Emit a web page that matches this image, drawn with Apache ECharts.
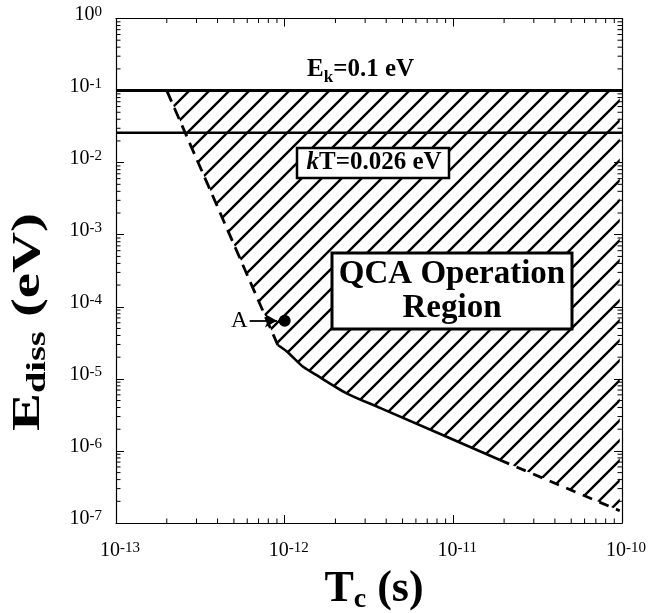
<!DOCTYPE html>
<html><head><meta charset="utf-8">
<script src="https://cdn.jsdelivr.net/npm/echarts@6/dist/echarts.min.js"></script>
<style>html,body{margin:0;padding:0;background:#fff}#c{width:669px;height:613px}</style>
</head><body><div id="c"></div>
<script>
// ---- data ----
const xRange = [1e-13, 1e-10];
const yRange = [1e-7, 1];
const ekLine = [[1e-13, 0.1], [1e-10, 0.1]];
const ktLine = [[1e-13, 0.026], [1e-10, 0.026]];
const upperDashed = [[2.0e-13, 0.1], [9.1e-13, 2.95e-5]];
const lowerSolid = [[9.1e-13, 2.95e-5], [1.03e-12, 2.4e-5], [1.28e-12, 1.48e-5], [1.47e-12, 1.21e-5], [2.33e-12, 6.3e-6], [3.67e-12, 3.96e-6], [1.89e-11, 7.5e-7]];
const lowerDashed = [[1.89e-11, 7.5e-7], [9.7e-11, 1.48e-7]];
const pointA = [[1.0e-12, 6.4e-5]];
const arrowA = [[6.2e-13, 6.4e-5], [9.0e-13, 6.4e-5]];
const xDecades = [-13, -12, -11];
const yDecades = [-7, -6, -5, -4, -3, -2, -1];
const minorMult = [2, 3, 4, 5, 6, 7, 8, 9];

// hatched region polygon built from the boundary arrays
const hatchPoly = [].concat(
  upperDashed,
  lowerSolid.slice(1),
  lowerDashed.slice(1),
  [[lowerDashed[lowerDashed.length - 1][0], 0.1]]
);
const xMinor = [], yMinor = [];
xDecades.forEach(d => minorMult.forEach(m => xMinor.push(m * Math.pow(10, d))));
yDecades.forEach(d => minorMult.forEach(m => yMinor.push(m * Math.pow(10, d))));

// hatch pattern
const pc = document.createElement('canvas');
pc.width = 20; pc.height = 20;
const g = pc.getContext('2d');
g.strokeStyle = '#000'; g.lineWidth = 2.4;
g.beginPath();
g.moveTo(-3, 23); g.lineTo(23, -3);
g.moveTo(-3, 3); g.lineTo(3, -3);
g.moveTo(17, 23); g.lineTo(23, 17);
g.stroke();
const hatch = { image: pc, repeat: 'repeat' };

const SERIF = '"Liberation Serif", "Times New Roman", serif';
const supFmt = v => '{b|10}{s|' + Math.round(Math.log10(v)) + '}';
const labRich = {
  b: { fontFamily: SERIF, fontSize: 20, color: '#000', lineHeight: 28, verticalAlign: 'top' },
  s: { fontFamily: SERIF, fontSize: 15, color: '#000', lineHeight: 15, verticalAlign: 'top' }
};
const axisCommon = {
  type: 'log', logBase: 10,
  axisLine: { show: true, lineStyle: { color: '#000', width: 1.2 } },
  axisTick: { show: true, inside: true, length: 8, lineStyle: { color: '#000', width: 1 } },
  splitLine: { show: false },
  minorTick: { show: false }
};

const chart = echarts.init(document.getElementById('c'));
chart.setOption({
  animation: false,
  backgroundColor: '#fff',
  grid: { left: 116, top: 18.5, width: 506, height: 504.5 },
  xAxis: [
    Object.assign({}, axisCommon, { min: xRange[0], max: xRange[1], interval: 1, splitNumber: 3, position: 'bottom',
      axisLabel: { formatter: supFmt, rich: labRich, margin: 18, padding: [0, 0, 0, 8] } }),
    Object.assign({}, axisCommon, { min: xRange[0], max: xRange[1], interval: 1, splitNumber: 3, position: 'top',
      axisLabel: { show: false } })
  ],
  yAxis: [
    Object.assign({}, axisCommon, { min: yRange[0], max: yRange[1], interval: 1, splitNumber: 7, position: 'left',
      axisLabel: { formatter: supFmt, rich: labRich, margin: 14 } }),
    Object.assign({}, axisCommon, { min: yRange[0], max: yRange[1], interval: 1, splitNumber: 7, position: 'right',
      axisLabel: { show: false } })
  ],
  series: [
    {
      type: 'custom', name: 'hatch', data: [[1e-12, 1e-3]], z: 1, silent: true,
      renderItem: function (params, api) {
        return { type: 'polygon', shape: { points: hatchPoly.map(p => api.coord(p)) }, style: { fill: hatch, stroke: null } };
      }
    },
    {
      type: 'custom', name: 'minorTicks', data: [[1e-12, 1e-3]], z: 5, silent: true, clip: false,
      renderItem: function (params, api) {
        const ch = [];
        const st = { stroke: '#000', lineWidth: 1 };
        xMinor.forEach(x => {
          const b = api.coord([x, yRange[0]]), t = api.coord([x, yRange[1]]);
          ch.push({ type: 'line', shape: { x1: b[0], y1: b[1], x2: b[0], y2: b[1] - 4.5 }, style: st });
          ch.push({ type: 'line', shape: { x1: t[0], y1: t[1], x2: t[0], y2: t[1] + 4.5 }, style: st });
        });
        yMinor.forEach(y => {
          const l = api.coord([xRange[0], y]), r = api.coord([xRange[1], y]);
          ch.push({ type: 'line', shape: { x1: l[0], y1: l[1], x2: l[0] + 4.5, y2: l[1] }, style: st });
          ch.push({ type: 'line', shape: { x1: r[0], y1: r[1], x2: r[0] - 4.5, y2: r[1] }, style: st });
        });
        return { type: 'group', children: ch };
      }
    },
    { type: 'line', data: ekLine, symbol: 'none', lineStyle: { color: '#000', width: 3 }, z: 3 },
    { type: 'line', data: ktLine, symbol: 'none', lineStyle: { color: '#000', width: 2.5 }, z: 3 },
    { type: 'line', data: upperDashed, symbol: 'none', lineStyle: { color: '#000', width: 2.8, type: [12, 7] }, z: 3 },
    { type: 'line', data: lowerSolid, symbol: 'none', smooth: 0.25, lineStyle: { color: '#000', width: 2.6 }, z: 3 },
    { type: 'line', data: lowerDashed, symbol: 'none', lineStyle: { color: '#000', width: 2.8, type: [10, 8] }, z: 3 },
    { type: 'scatter', data: pointA, symbol: 'circle', symbolSize: 12, itemStyle: { color: '#000', opacity: 1 }, z: 4,
      markLine: {
        silent: true, symbol: ['none', 'arrow'], symbolSize: [10, 12],
        lineStyle: { color: '#000', width: 1.8, type: 'solid', opacity: 1 }, label: { show: false },
        data: [[{ coord: arrowA[0] }, { coord: arrowA[1] }]]
      } }
  ],
  graphic: [
    { type: 'text', z: 100, left: 231, top: 309,
      style: { text: 'A', font: '23px ' + SERIF, fill: '#000' } },
    { type: 'text', z: 100, x: 307, y: 57,
      style: { text: '{a|E}{k|k}{a|=0.1 eV}', rich: {
        a: { fontFamily: SERIF, fontWeight: 'bold', fontSize: 25, lineHeight: 26, verticalAlign: 'top' },
        k: { fontFamily: SERIF, fontWeight: 'bold', fontSize: 17, lineHeight: 17, verticalAlign: 'top', padding: [12, 0, 0, 0] } } } },
    { type: 'rect', z: 100, shape: { x: 297, y: 148, width: 152, height: 30 },
      style: { fill: '#fff', stroke: '#000', lineWidth: 2.5 } },
    { type: 'text', z: 101, x: 374, y: 163,
      style: { text: '{i|k}{a|T=0.026 eV}', align: 'center', verticalAlign: 'middle', rich: {
        i: { fontFamily: SERIF, fontWeight: 'bold', fontStyle: 'italic', fontSize: 25 },
        a: { fontFamily: SERIF, fontWeight: 'bold', fontSize: 25 } } } },
    { type: 'rect', z: 100, shape: { x: 332, y: 253, width: 240, height: 76 },
      style: { fill: '#fff', stroke: '#000', lineWidth: 3 } },
    { type: 'text', z: 101, x: 452, y: 291,
      style: { text: 'QCA Operation\nRegion', align: 'center', verticalAlign: 'middle',
        font: 'bold 33px ' + SERIF, lineHeight: 34, fill: '#000' } },
    { type: 'text', z: 100, x: 374, y: 590,
      style: { text: '{a|T}{c|c}{a| (s)}', align: 'center', verticalAlign: 'middle', rich: {
        a: { fontFamily: SERIF, fontWeight: 'bold', fontSize: 44, lineHeight: 44, verticalAlign: 'top' },
        c: { fontFamily: SERIF, fontWeight: 'bold', fontSize: 28, lineHeight: 28, verticalAlign: 'top', padding: [18, 0, 0, 0] } } } },
    { type: 'text', z: 100, x: 29, y: 322, rotation: Math.PI / 2, scaleX: 1.42, scaleY: 1,
      style: { text: '{a|E}{c|diss}{a| (eV)}', align: 'center', verticalAlign: 'middle', rich: {
        a: { fontFamily: SERIF, fontWeight: 'bold', fontSize: 40, lineHeight: 40, verticalAlign: 'top' },
        c: { fontFamily: SERIF, fontWeight: 'bold', fontSize: 27, lineHeight: 27, verticalAlign: 'top', padding: [16, 0, 0, 0] } } } }
  ]
});
</script>
</body></html>
